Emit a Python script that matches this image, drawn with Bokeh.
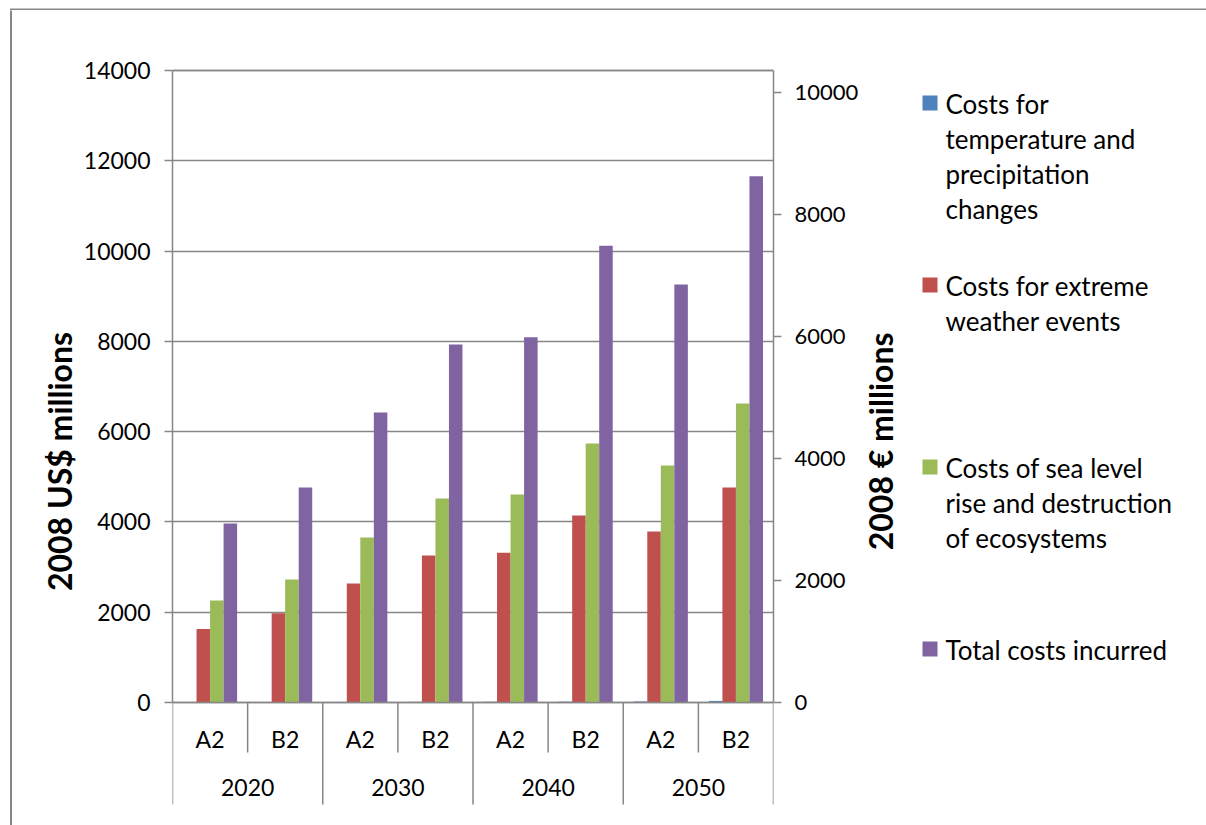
import numpy as np
from bokeh.plotting import figure
from bokeh.layouts import row, column
from bokeh.models import Range1d, LinearAxis, FixedTicker, ColumnDataSource
from bokeh.embed import file_html
from bokeh.resources import INLINE
from bokeh.core.properties import value

# ---------------- data ----------------
years = ["2020", "2030", "2040", "2050"]
scenarios = ["A2", "B2"]
series_names = [
    "Costs for temperature and precipitation changes",
    "Costs for extreme weather events",
    "Costs of sea level rise and destruction of ecosystems",
    "Total costs incurred",
]
legend_lines = [
    ["Costs for", "temperature and", "precipitation", "changes"],
    ["Costs for extreme", "weather events"],
    ["Costs of sea level", "rise and destruction", "of ecosystems"],
    ["Total costs incurred"],
]
temp_precip = [8, 10, 12, 14, 16, 18, 22, 35]
extreme_weather = [1630, 1975, 2635, 3255, 3320, 4140, 3790, 4760]
sea_level = [2260, 2725, 3655, 4520, 4605, 5740, 5250, 6625]
total_costs = [3965, 4760, 6425, 7930, 8090, 10120, 9260, 11655]
usd_ticks = [0, 2000, 4000, 6000, 8000, 10000, 12000, 14000]
eur_ticks = [0, 2000, 4000, 6000, 8000, 10000]
left_title = "2008 US$ millions"
right_title = "2008 €  millions"
colors = ["#4F81BD", "#C0504D", "#9BBB59", "#8064A2"]
EUR_PER_USD = 0.74

# ---------------- layout constants (absolute page pixels) ----------------
W, H = 1206, 825
STRIP_H = 10
LEFT_W = 78           # left title panel
RIGHT_X = 861         # start of right (title + legend) panel
FL, FR = 172, 773
PLOT_TOP, PLOT_BOTTOM = 70, 702
USD_MAX = 14000
ppu = (PLOT_BOTTOM - PLOT_TOP) / USD_MAX
y_lo = -(H - PLOT_BOTTOM) / ppu
y_hi = USD_MAX + (PLOT_TOP - STRIP_H) / ppu
GRAY = "#868686"
FONT = "Lato"
BORDER_X, BORDER_Y = 10.5, 7
PANEL_H = H - STRIP_H


def dy(py):
    """page row below the zero line -> data y of main plot"""
    return -(py - PLOT_BOTTOM) / ppu


def blank_fig(w, x0=0):
    # panel whose data coords are page pixels: x = page x, y = H - page y
    f = figure(width=w, height=PANEL_H, x_range=Range1d(x0, x0 + w),
               y_range=Range1d(0, PANEL_H),
               output_backend="svg", toolbar_location=None,
               x_axis_location=None, y_axis_location=None,
               min_border_left=0, min_border_right=0, min_border_top=0, min_border_bottom=0)
    f.outline_line_color = None
    f.background_fill_color = "white"
    f.border_fill_color = "white"
    f.grid.visible = False
    return f


# ---------------- top strip (outer chart border) ----------------
strip = figure(width=W, height=STRIP_H, x_range=Range1d(0, W), y_range=Range1d(STRIP_H, 0),
               output_backend="svg", toolbar_location=None,
               x_axis_location=None, y_axis_location=None,
               min_border_left=0, min_border_right=0, min_border_top=0, min_border_bottom=0)
strip.outline_line_color = None
strip.grid.visible = False
strip.segment(x0=[BORDER_X - 1, BORDER_X], y0=[BORDER_Y, BORDER_Y], x1=[W + 5, BORDER_X],
              y1=[BORDER_Y, STRIP_H + 1], line_color=GRAY, line_width=2)

# ---------------- main plot ----------------
MAIN_W = RIGHT_X - LEFT_W
p = figure(width=MAIN_W, height=PANEL_H, x_range=Range1d(0, 8), y_range=Range1d(y_lo, y_hi),
           output_backend="svg", toolbar_location=None, x_axis_location=None,
           min_border_left=FL - LEFT_W, min_border_right=RIGHT_X - FR,
           min_border_top=0, min_border_bottom=0)
p.outline_line_color = None
p.background_fill_color = "white"
p.border_fill_color = "white"
p.xgrid.visible = False
p.ygrid.ticker = FixedTicker(ticks=usd_ticks)
p.ygrid.grid_line_color = GRAY
p.ygrid.grid_line_width = 1.3
p.ygrid.bounds = (0, USD_MAX)

ax = p.yaxis[0]
ax.ticker = FixedTicker(ticks=usd_ticks)
ax.bounds = (0, USD_MAX)
p.extra_y_ranges = {"eur": Range1d(y_lo * EUR_PER_USD, y_hi * EUR_PER_USD)}
rax = LinearAxis(y_range_name="eur", ticker=FixedTicker(ticks=eur_ticks),
                 bounds=(0, USD_MAX * EUR_PER_USD))
p.add_layout(rax, "right")
for a, stand, fs in ((ax, 14, "23px"), (rax, 13, "22px")):
    a.axis_line_color = GRAY
    a.axis_line_width = 1.5
    a.major_tick_line_color = GRAY
    a.major_tick_line_width = 1.5
    a.major_tick_out = 8
    a.major_tick_in = 0
    a.minor_tick_line_color = None
    a.major_label_standoff = stand
    a.major_label_text_font = FONT
    a.major_label_text_font_size = fs
    a.major_label_text_color = "black"

n_cat = len(years) * len(scenarios)
centers = np.arange(n_cat) + 0.5
offsets = [-0.27, -0.09, 0.09, 0.27]
bar_w = 0.18
for vals, off, col, name in zip([temp_precip, extreme_weather, sea_level, total_costs],
                                offsets, colors, series_names):
    src = ColumnDataSource(dict(x=centers + off, top=vals))
    p.vbar(x="x", top="top", bottom=0, width=bar_w, source=src,
           fill_color=col, line_color=None)

# plot-area top border, x axis line and the two-level category axis
p.segment(x0=[0, 0], y0=[USD_MAX, 0], x1=[n_cat, n_cat], y1=[USD_MAX, 0],
          line_color=GRAY, line_width=1.5)
grp_x = [2 * i for i in range(len(years) + 1)]
p.segment(x0=grp_x, y0=[0] * len(grp_x), x1=grp_x, y1=[dy(804)] * len(grp_x),
          line_color=GRAY, line_width=1.5)
sub_x = [2 * i + 1 for i in range(len(years))]
p.segment(x0=sub_x, y0=[0] * len(sub_x), x1=sub_x, y1=[dy(752)] * len(sub_x),
          line_color=GRAY, line_width=1.5)
scen_labels = [s for _ in years for s in scenarios]
p.text(x=list(centers), y=[dy(738)] * n_cat, text=scen_labels,
       text_font=value(FONT), text_font_size="23px", text_align="center",
       text_baseline="middle", text_color="black")
p.text(x=sub_x, y=[dy(787)] * len(years), text=years,
       text_font=value(FONT), text_font_size="23px", text_align="center",
       text_baseline="middle", text_color="black")

# ---------------- left panel: border + y title ----------------
left = blank_fig(LEFT_W)
left.segment(x0=[BORDER_X], y0=[-5], x1=[BORDER_X], y1=[H], line_color=GRAY, line_width=2)
left.text(x=[59], y=[H - 461], text=[left_title], angle=np.pi / 2,
          text_font=value(FONT), text_font_size="32px", text_font_style="bold",
          text_align="center", text_baseline="middle", text_color="black")

# ---------------- right panel: secondary title + legend ----------------
right = blank_fig(W - RIGHT_X, x0=RIGHT_X)
right.text(x=[880], y=[H - 437], text=[right_title], angle=np.pi / 2,
           text_font=value(FONT), text_font_size="32px", text_font_style="bold",
           text_align="center", text_baseline="middle", text_color="black")
item_top = [95, 277, 459, 641]
right.quad(left=[922] * 4, right=[937] * 4, top=[H - t for t in item_top],
           bottom=[H - t - 15 for t in item_top], fill_color=colors, line_color=None)
lx, ly, lt = [], [], []
for lines, top in zip(legend_lines, item_top):
    for j, line in enumerate(lines):
        lx.append(945)
        ly.append(H - (top + 8 + 35 * j))
        lt.append(line)
right.text(x=lx, y=ly, text=lt, text_font=value(FONT), text_font_size="26px",
           text_align="left", text_baseline="middle", text_color="black")

layout = column(strip, row(left, p, right, spacing=0), spacing=0)
open("out.html", "w").write(file_html(layout, INLINE))
